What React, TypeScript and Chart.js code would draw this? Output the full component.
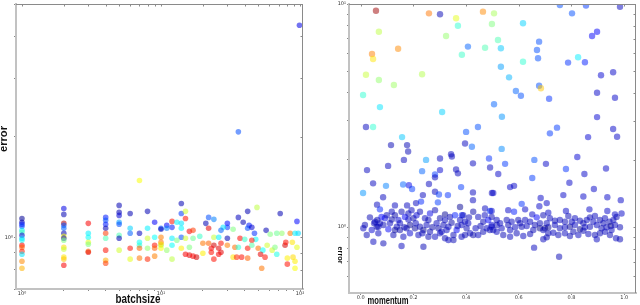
import React, { useEffect, useRef } from "react";
import { Chart, registerables } from "chart.js";
Chart.register(...registerables);

// ---------- left panel: batchsize vs error ----------
const batchsize: number[] = [
  1, 1, 1, 1, 1, 1, 1, 1, 1, 1, 1, 1, 1, 1, 1,
  2, 2, 2, 2, 2, 2, 2, 2, 2, 2, 2, 2, 2, 2,
  3, 3, 3, 3, 3, 3, 3,
  4, 4, 4, 4, 4, 4, 4, 4, 4,
  5, 5, 5, 5, 5, 5, 5, 5,
  6, 6, 6, 6, 6,
  7, 7, 7, 7, 7, 7,
  8, 8, 8, 8, 8,
  9, 9, 9, 9, 9,
  10, 10, 10, 10, 10, 10, 10,
  14, 14, 15, 15, 12, 11, 12, 13, 14, 14,
  11, 16, 17, 22, 24, 21, 22, 30, 30, 28,
  27, 33, 36, 39, 42, 49, 43, 42, 45, 47,
  57, 72, 95, 85, 92, 97, 68, 74, 61, 14,
  12, 12, 13, 15, 17, 19, 24, 26, 30, 37,
  40, 48, 45, 11, 16, 14, 20, 22, 24, 27,
  23, 26, 30, 34, 36, 42, 45, 50, 54, 58,
  63, 66, 78, 79, 95, 88, 15, 16, 17, 18,
  20, 23, 26, 27, 33, 35, 38, 42, 52, 56,
  68, 81, 89, 12, 24, 53, 81, 92, 92, 36,
  99,
];
const batchError: number[] = [
  1.139, 1.109, 1.094, 1.079, 1.049, 1.035, 1.014, 0.993, 0.98, 0.947, 0.934, 0.908, 0.89, 0.848, 0.808,
  1.22, 1.171, 1.101, 1.086, 1.064, 1.028, 1.007, 0.993, 0.98, 0.934, 0.921, 0.872, 0.86, 0.825,
  1.101, 1.028, 1.0, 0.966, 0.953, 0.908, 0.902,
  1.147, 1.124, 1.094, 1.064, 1.028, 0.993, 0.915, 0.854, 0.836,
  1.246, 1.188, 1.163, 1.109, 1.094, 1.014, 0.993, 0.915,
  1.179, 1.064, 1.028, 0.927, 0.86,
  1.48, 1.028, 0.966, 0.947, 0.927, 0.866,
  1.196, 1.064, 0.993, 0.927, 0.86,
  1.109, 1.0, 0.947, 0.927, 0.878,
  1.064, 1.0, 0.947, 0.927, 1.057, 0.966, 0.953,
  1.263, 1.179, 1.196, 1.139, 1.116, 1.086, 1.071, 1.109, 1.101, 1.064,
  1.064, 1.042, 1.049, 1.147, 1.132, 1.101, 1.064, 1.101, 1.071, 1.071,
  1.049, 1.057, 1.147, 1.109, 1.196, 1.229, 1.086, 1.064, 1.071, 1.028,
  1.049, 1.179, 1.116, 1.028, 1.028, 1.028, 1.028, 1.028, 1.021, 1.0,
  0.993, 0.947, 0.98, 0.993, 0.993, 1.007, 1.0, 1.0, 0.993, 0.993,
  0.986, 0.986, 0.98, 0.915, 0.934, 0.927, 0.96, 0.96, 0.947, 0.96,
  0.927, 0.927, 0.947, 0.934, 0.934, 0.927, 0.947, 0.927, 0.915, 0.947,
  0.915, 0.934, 0.947, 0.966, 0.934, 0.966, 0.89, 0.884, 0.878, 0.872,
  0.896, 0.902, 0.89, 0.902, 0.872, 0.872, 0.872, 0.866, 0.89, 0.872,
  0.89, 0.866, 0.872, 0.86, 0.86, 0.808, 0.831, 0.848, 0.808, 2.07,
  4.32,
];
const batchColour: number[] = [
  0.02, 0.05, 0.15, 0.18, 0.36, 0.45, 0.08, 0.33, 0.38, 0.88, 0.78, 0.85, 0.35, 0.74, 0.7,
  0.1, 0.05, 0.95, 0.2, 0.22, 0.05, 0.62, 0.05, 0.5, 0.66, 0.57, 0.65, 0.68, 0.88,
  0.88, 0.36, 0.38, 0.6, 0.5, 0.76, 0.9,
  0.15, 0.2, 0.15, 0.05, 0.82, 0.45, 0.86, 0.7, 0.82,
  0.05, 0.05, 0.08, 0.28, 0.2, 0.45, 0.05, 0.58,
  0.05, 0.33, 0.22, 0.86, 0.6,
  0.62, 0.06, 0.38, 0.42, 0.78, 0.76,
  0.05, 0.36, 0.58, 0.52, 0.84,
  0.12, 0.38, 0.86, 0.78, 0.75,
  0.2, 0.75, 0.5, 0.62, 0.05, 0.76, 0.65,
  0.05, 0.18, 0.58, 0.86, 0.86, 0.12, 0.15, 0.36, 0.35, 0.37,
  0.25, 0.88, 0.82, 0.2, 0.25, 0.05, 0.9, 0.13, 0.18, 0.35,
  0.22, 0.5, 0.06, 0.05, 0.05, 0.56, 0.15, 0.2, 0.08, 0.17,
  0.05, 0.05, 0.13, 0.76, 0.36, 0.34, 0.48, 0.52, 0.5, 0.2,
  0.36, 0.38, 0.5, 0.58, 0.48, 0.43, 0.57, 0.36, 0.05, 0.87,
  0.43, 0.38, 0.86, 0.52, 0.5, 0.64, 0.76, 0.78, 0.92, 0.86,
  0.88, 0.9, 0.75, 0.77, 0.42, 0.86, 0.46, 0.76, 0.38, 0.58,
  0.58, 0.5, 0.92, 0.86, 0.6, 0.65, 0.88, 0.9, 0.88, 0.92,
  0.64, 0.86, 0.88, 0.9, 0.65, 0.84, 0.86, 0.78, 0.9, 0.86,
  0.4, 0.64, 0.66, 0.56, 0.86, 0.76, 0.86, 0.64, 0.62, 0.2,
  0.1,
];

// ---------- right panel: momentum vs error ----------
const momentum: number[] = [
  0.058, 0.259, 0.301, 0.362, 0.464, 0.506, 0.369, 0.498, 0.069, 0.324,
  0.043, 0.047, 0.142, 0.407, 0.472, 0.384, 0.02, 0.069, 0.126, 0.233,
  0.009, 0.073, 0.309, 0.506, 0.02, 0.047, 0.445, 0.157, 0.4, 0.396,
  0.115, 0.176, 0.422, 0.756, 0.855, 0.984, 0.802, 0.616, 0.897, 0.878,
  0.521, 0.532, 0.677, 0.669, 0.673, 0.616, 0.825, 0.787, 0.851, 0.532,
  0.563, 0.912, 0.958, 0.677, 0.684, 0.589, 0.608, 0.715, 0.897, 0.965,
  0.536, 0.897, 0.745, 0.718, 0.863, 0.958, 0.973,
  0.18, 0.248, 0.164, 0.024, 0.104, 0.233, 0.301, 0.343, 0.346, 0.426,
  0.362, 0.369, 0.282, 0.301, 0.282, 0.259, 0.047, 0.096, 0.161, 0.183,
  0.195, 0.009, 0.085, 0.236, 0.282, 0.297, 0.331, 0.381, 0.426, 0.426,
  0.293, 0.062, 0.073, 0.13, 0.176, 0.21, 0.229, 0.377, 0.472, 0.32,
  0.384, 0.491, 0.498, 0.487, 0.491,
  0.035, 0.054, 0.063, 0.073, 0.092, 0.099, 0.118, 0.13, 0.143, 0.155,
  0.168, 0.181, 0.193, 0.2, 0.212, 0.225, 0.244, 0.263, 0.282, 0.301,
  0.32, 0.339, 0.358, 0.377, 0.389, 0.408, 0.427, 0.446, 0.465, 0.484,
  0.497, 0.01, 0.023, 0.042, 0.061, 0.067, 0.086, 0.105, 0.124, 0.137,
  0.149, 0.162, 0.174, 0.187, 0.206, 0.219, 0.238, 0.25, 0.263, 0.282,
  0.295, 0.307, 0.32, 0.333, 0.352, 0.364, 0.383, 0.402, 0.415, 0.427,
  0.446, 0.465, 0.478, 0.497, 0.503, 0.048, 0.086, 0.155, 0.238, 0.333,
  0.352, 0.383, 0.016, 0.079, 0.111, 0.13, 0.149, 0.166, 0.187, 0.209,
  0.225, 0.234, 0.257, 0.272, 0.288, 0.314, 0.326, 0.345, 0.368, 0.396,
  0.411, 0.436, 0.455, 0.471, 0.49, 0.067, 0.051, 0.118, 0.181, 0.257,
  0.301, 0.396,
  0.535, 0.548, 0.659, 0.703, 0.822, 0.779, 0.849, 0.931, 0.522, 0.651,
  0.792, 0.567, 0.582, 0.503, 0.769, 0.845, 0.885, 0.936, 0.987, 0.683,
  0.706, 0.611, 0.624, 0.678, 0.497, 0.56, 0.582, 0.651, 0.712, 0.779,
  0.868, 0.936, 0.965, 0.99,
  0.516, 0.554, 0.573, 0.598, 0.624, 0.668, 0.693, 0.718, 0.737, 0.756,
  0.788, 0.813, 0.832, 0.858, 0.87, 0.889, 0.908, 0.927, 0.944, 0.959,
  0.971, 0.497, 0.516, 0.535, 0.56, 0.586, 0.611, 0.63, 0.661, 0.68,
  0.699, 0.712, 0.737, 0.756, 0.775, 0.794, 0.813, 0.832, 0.851, 0.87,
  0.896, 0.914, 0.933, 0.949, 0.965, 0.984, 0.516, 0.541, 0.567, 0.592,
  0.617, 0.643, 0.693, 0.712, 0.731, 0.75, 0.775, 0.794, 0.826, 0.845,
  0.864, 0.889, 0.896, 0.908, 0.927, 0.946, 0.969, 0.984, 0.693, 0.706,
  0.658, 0.753, 0.529, 0.605, 0.643, 0.68, 0.706, 0.775, 0.801, 0.845,
  0.883, 0.921, 0.952, 0.655, 0.567, 0.807,
];
const momentumError: number[] = [
  9.33, 9.08, 8.99, 8.63, 9.24, 9.08, 7.99, 8.14, 7.51, 7.19,
  5.97, 5.67, 6.3, 6.44, 6.37, 5.92, 4.82, 4.56, 4.33, 4.84,
  3.91, 3.45, 3.28, 3.55, 2.81, 2.81, 2.81, 2.53, 2.67, 2.37,
  2.33, 2.33, 2.29, 9.9, 9.85, 9.72, 9.08, 8.2, 7.51, 7.19,
  6.9, 6.33, 6.78, 6.22, 5.71, 5.51, 5.77, 5.46, 5.48, 5.23,
  4.69, 4.79, 4.94, 4.3, 4.19, 4.07, 3.88, 3.76, 4.0, 3.8,
  3.12, 3.11, 2.79, 2.63, 2.53, 2.75, 2.54,
  2.18, 2.0, 2.0, 1.8, 1.88, 1.78, 2.03, 2.12, 2.07, 1.93,
  1.81, 1.74, 1.72, 1.8, 1.67, 1.56, 1.57, 1.53, 1.55, 1.54,
  1.48, 1.42, 1.36, 1.39, 1.44, 1.4, 1.39, 1.51, 1.43, 1.32,
  1.29, 1.26, 1.2, 1.25, 1.25, 1.28, 1.3, 1.23, 1.21, 1.14,
  1.13, 1.18, 1.42, 2.03, 1.85,
  1.105, 1.056, 1.075, 1.039, 1.094, 1.13, 1.17, 1.13, 1.075, 1.17,
  1.11, 1.15, 1.19, 1.094, 1.13, 1.17, 1.094, 1.15, 1.19, 1.094,
  1.075, 1.11, 1.13, 1.075, 1.13, 1.039, 1.17, 1.11, 1.056, 1.075,
  1.11, 0.987, 0.921, 0.969, 1.003, 0.937, 1.021, 0.977, 0.921, 1.003,
  0.969, 0.905, 0.987, 0.937, 0.987, 0.921, 0.969, 1.021, 0.953, 0.905,
  0.987, 0.953, 0.89, 1.003, 0.921, 0.969, 1.021, 0.987, 0.937, 0.921,
  0.921, 0.953, 0.987, 1.021, 0.969, 0.859, 0.845, 0.822, 0.816, 0.874,
  0.874, 0.905, 1.021, 1.11, 1.039, 0.969, 1.039, 0.997, 1.021, 1.039,
  1.003, 0.937, 1.075, 0.997, 1.039, 1.021, 0.969, 1.045, 1.01, 1.056,
  1.105, 0.987, 1.01, 1.13, 0.969, 1.003, 1.039, 1.08, 1.08, 0.905,
  0.937, 0.921,
  2.24, 1.92, 2.0, 1.92, 2.06, 1.82, 1.73, 1.83, 1.73, 1.66,
  1.58, 1.51, 1.53, 1.42, 1.39, 1.37, 1.48, 1.36, 1.32, 1.35,
  1.28, 1.27, 1.2, 1.24, 1.18, 1.19, 1.17, 1.14, 1.16, 1.18,
  1.2, 1.18, 1.14, 1.15,
  1.075, 1.075, 1.056, 1.075, 1.075, 1.105, 1.13, 1.094, 1.067, 1.075,
  1.12, 1.094, 1.067, 1.075, 1.105, 1.12, 1.075, 1.094, 1.056, 1.075,
  1.11, 1.003, 1.021, 0.987, 1.021, 0.997, 1.003, 1.01, 1.021, 0.987,
  0.987, 0.997, 1.021, 0.987, 0.997, 1.003, 1.021, 0.977, 0.997, 1.003,
  1.021, 0.987, 0.997, 1.01, 1.021, 0.997, 0.953, 0.921, 0.905, 0.937,
  0.911, 0.93, 0.969, 0.937, 0.943, 0.921, 0.937, 0.911, 0.921, 0.962,
  0.93, 0.921, 0.881, 0.937, 0.953, 0.921, 0.89, 0.881, 0.881, 0.899,
  0.808, 0.736, 1.039, 1.039, 1.056, 1.039, 1.039, 1.056, 1.056, 1.039,
  1.056, 1.039, 0.969, 0.969, 0.969, 0.953,
];
const momentumColour: number[] = [
  0.97, 0.76, 0.05, 0.6, 0.74, 0.54, 0.42, 0.5, 0.56, 0.52,
  0.75, 0.65, 0.74, 0.22, 0.45, 0.43, 0.57, 0.52, 0.53, 0.55,
  0.42, 0.35, 0.33, 0.22, 0.06, 0.42, 0.2, 0.32, 0.2, 0.06,
  0.05, 0.05, 0.22, 0.2, 0.18, 0.06, 0.2, 0.33, 0.12, 0.12,
  0.45, 0.32, 0.2, 0.2, 0.2, 0.42, 0.36, 0.17, 0.15, 0.28,
  0.3, 0.08, 0.07, 0.2, 0.68, 0.22, 0.2, 0.17, 0.07, 0.07,
  0.27, 0.08, 0.18, 0.18, 0.08, 0.07, 0.07,
  0.05, 0.28, 0.06, 0.06, 0.06, 0.22, 0.06, 0.06, 0.06, 0.06,
  0.06, 0.06, 0.18, 0.08, 0.06, 0.06, 0.06, 0.25, 0.22, 0.1,
  0.18, 0.27, 0.06, 0.06, 0.06, 0.18, 0.17, 0.18, 0.06, 0.06,
  0.18, 0.06, 0.16, 0.06, 0.06, 0.06, 0.16, 0.02, 0.06, 0.02,
  0.15, 0.17, 0.06, 0.17, 0.06,
  0.05, 0.08, 0.04, 0.06, 0.1, 0.05, 0.06, 0.04, 0.08, 0.05,
  0.12, 0.05, 0.06, 0.04, 0.08, 0.05, 0.06, 0.1, 0.05, 0.04,
  0.06, 0.05, 0.15, 0.06, 0.05, 0.06, 0.04, 0.06, 0.05, 0.12,
  0.05, 0.06, 0.05, 0.08, 0.04, 0.06, 0.05, 0.12, 0.05, 0.06,
  0.04, 0.06, 0.05, 0.08, 0.03, 0.06, 0.02, 0.06, 0.05, 0.06,
  0.04, 0.06, 0.05, 0.06, 0.05, 0.12, 0.06, 0.05, 0.06, 0.04,
  0.06, 0.05, 0.06, 0.08, 0.05, 0.06, 0.05, 0.06, 0.05, 0.06,
  0.05, 0.06, 0.05, 0.12, 0.06, 0.03, 0.06, 0.05, 0.02, 0.06,
  0.05, 0.06, 0.05, 0.04, 0.06, 0.05, 0.06, 0.04, 0.05, 0.06,
  0.05, 0.06, 0.05, 0.06, 0.05, 0.06, 0.05, 0.04, 0.06, 0.05,
  0.06, 0.05,
  0.26, 0.18, 0.2, 0.07, 0.08, 0.17, 0.07, 0.07, 0.07, 0.18,
  0.07, 0.07, 0.07, 0.07, 0.07, 0.07, 0.07, 0.07, 0.07, 0.07,
  0.07, 0.17, 0.07, 0.07, 0.07, 0.07, 0.15, 0.07, 0.07, 0.07,
  0.07, 0.07, 0.07, 0.07,
  0.06, 0.05, 0.06, 0.05, 0.06, 0.12, 0.05, 0.06, 0.05, 0.06,
  0.05, 0.06, 0.05, 0.06, 0.05, 0.06, 0.05, 0.06, 0.05, 0.06,
  0.05, 0.06, 0.05, 0.06, 0.05, 0.06, 0.05, 0.06, 0.05, 0.01,
  0.01, 0.02, 0.06, 0.05, 0.06, 0.02, 0.06, 0.01, 0.06, 0.05,
  0.06, 0.05, 0.06, 0.02, 0.06, 0.05, 0.06, 0.05, 0.06, 0.05,
  0.06, 0.05, 0.06, 0.05, 0.06, 0.05, 0.06, 0.05, 0.06, 0.05,
  0.06, 0.05, 0.06, 0.05, 0.06, 0.05, 0.06, 0.05, 0.06, 0.05,
  0.06, 0.05, 0.06, 0.05, 0.06, 0.05, 0.06, 0.05, 0.06, 0.05,
  0.06, 0.05, 0.06, 0.05, 0.06, 0.05,
];

// ---------- tick labels ----------
const decadeValues: number[] = [1, 10, 100];
const decadeLabels: string[] = ["10⁰", "10¹", "10²"];

function clamp01(v: number) {
  return Math.max(0, Math.min(1, v));
}
function jet(t: number, a: number) {
  const r = clamp01(1.5 - Math.abs(4 * t - 3));
  const g = clamp01(1.5 - Math.abs(4 * t - 2));
  const b = clamp01(1.5 - Math.abs(4 * t - 1));
  return `rgba(${Math.round(r * 255)},${Math.round(g * 255)},${Math.round(b * 255)},${a})`;
}
function decadeLabel(v: number) {
  for (let i = 0; i < decadeValues.length; i++) {
    if (Math.abs(v - decadeValues[i]) < 1e-9 * decadeValues[i]) return decadeLabels[i];
  }
  return "";
}
function keepLogTick(v: number) {
  const p = Math.pow(10, Math.floor(Math.log10(v) + 1e-9));
  const s = v / p;
  return Math.abs(s - Math.round(s)) < 1e-6;
}

const TICK_FONT = { size: 5, family: "'DejaVu Sans', sans-serif" };

// top and right frame lines, with inward tick marks mirrored from the scales
const framePlugin = {
  id: "frame",
  afterDraw(chart: any) {
    const { ctx, chartArea: a } = chart;
    const xs = chart.scales.x;
    const ys = chart.scales.y;
    ctx.save();
    ctx.strokeStyle = "#8a8a8a";
    ctx.lineWidth = 1;
    ctx.beginPath();
    ctx.moveTo(a.left, a.top + 0.5);
    ctx.lineTo(a.right, a.top + 0.5);
    ctx.moveTo(a.right - 0.5, a.top);
    ctx.lineTo(a.right - 0.5, a.bottom);
    xs.ticks.forEach((t: any) => {
      const px = Math.round(xs.getPixelForValue(t.value)) + 0.5;
      if (px > a.left + 1 && px < a.right - 1) {
        ctx.moveTo(px, a.top);
        ctx.lineTo(px, a.top + 2.5);
      }
    });
    ys.ticks.forEach((t: any) => {
      const py = Math.round(ys.getPixelForValue(t.value)) + 0.5;
      if (py > a.top + 1 && py < a.bottom - 1) {
        ctx.moveTo(a.right, py);
        ctx.lineTo(a.right - 2.5, py);
      }
    });
    ctx.stroke();
    ctx.restore();
  },
};

const titlePlugin = {
  id: "axisTitles",
  afterDraw(chart: any, _args: any, opts: any) {
    const ctx = chart.ctx;
    (opts.items || []).forEach((it: any) => {
      ctx.save();
      ctx.translate(it.x, it.y);
      ctx.rotate(it.rot || 0);
      ctx.font = it.font;
      const w = ctx.measureText(it.text).width;
      ctx.scale(it.width / w, 1);
      ctx.textAlign = "center";
      ctx.textBaseline = "alphabetic";
      ctx.fillStyle = "#111";
      ctx.fillText(it.text, 0, 0);
      ctx.restore();
    });
  },
};

function axisCommon(extra: any) {
  return {
    border: { display: true, color: "#c2c2c2", width: 2 },
    grid: { drawOnChartArea: false, drawTicks: true, tickLength: 2, color: "#888", lineWidth: 1 },
    ...extra,
  };
}

function makeLeft(canvas: HTMLCanvasElement) {
  return new Chart(canvas, {
    type: "scatter",
    data: {
      datasets: [
        {
          data: batchsize.map((x, i) => ({ x, y: batchError[i] })),
          pointBackgroundColor: batchColour.map((c) => jet(c, 0.55)),
          pointBorderWidth: 0,
          pointRadius: 2.8,
        },
      ],
    },
    options: {
      responsive: false,
      animation: false,
      events: [],
      layout: { padding: { left: 0, top: 3, right: 17, bottom: 0 } },
      plugins: {
        legend: { display: false },
        tooltip: { enabled: false },
        axisTitles: {
          items: [
            { text: "error", x: 6.5, y: 139, rot: -Math.PI / 2, font: "bold 11px 'Liberation Sans'", width: 26 },
            { text: "batchsize", x: 138, y: 303, rot: 0, font: "bold 12px 'Liberation Sans'", width: 45 },
          ],
        },
      } as any,
      scales: {
        x: axisCommon({
          type: "logarithmic",
          min: 0.906,
          max: 105,
          afterBuildTicks: (s: any) => {
            s.ticks = s.ticks.filter((t: any) => keepLogTick(t.value));
          },
          afterFit: (s: any) => {
            s.height = 16;
          },
          ticks: {
            autoSkip: false,
            maxRotation: 0,
            minRotation: 0,
            padding: 0,
            font: TICK_FONT,
            color: "#333",
            callback: (v: any) => decadeLabel(Number(v)),
          },
        }),
        y: axisCommon({
          type: "logarithmic",
          min: 0.7,
          max: 5,
          afterBuildTicks: (s: any) => {
            s.ticks = s.ticks.filter((t: any) => keepLogTick(t.value));
          },
          afterFit: (s: any) => {
            s.width = 16;
          },
          ticks: {
            autoSkip: false,
            padding: 1,
            font: TICK_FONT,
            color: "#333",
            callback: (v: any) => decadeLabel(Number(v)),
          },
        }),
      },
    },
    plugins: [framePlugin, titlePlugin],
  } as any);
}

function makeRight(canvas: HTMLCanvasElement) {
  return new Chart(canvas, {
    type: "scatter",
    data: {
      datasets: [
        {
          data: momentum.map((x, i) => ({ x, y: momentumError[i] })),
          pointBackgroundColor: momentumColour.map((c) => jet(c, 0.5)),
          pointBorderWidth: 0,
          pointRadius: 3.2,
        },
      ],
    },
    options: {
      responsive: false,
      animation: false,
      events: [],
      layout: { padding: { left: 0, top: 4, right: 4, bottom: 0 } },
      plugins: {
        legend: { display: false },
        tooltip: { enabled: false },
        axisTitles: {
          items: [
            { text: "error", x: 18, y: 255, rot: Math.PI / 2, font: "bold 8px 'Liberation Sans'", width: 17 },
            { text: "momentum", x: 68, y: 304, rot: 0, font: "bold 10px 'Liberation Sans'", width: 41 },
          ],
        },
      } as any,
      scales: {
        x: axisCommon({
          type: "linear",
          min: -0.0444,
          max: 1.0448,
          afterFit: (s: any) => {
            s.height = 12;
          },
          ticks: {
            stepSize: 0.2,
            includeBounds: false,
            autoSkip: false,
            maxRotation: 0,
            minRotation: 0,
            padding: 0,
            font: TICK_FONT,
            color: "#333",
            callback: (v: any) => Number(v).toFixed(1),
          },
        }),
        y: axisCommon({
          type: "logarithmic",
          min: 0.506,
          max: 10,
          afterBuildTicks: (s: any) => {
            s.ticks = s.ticks.filter((t: any) => keepLogTick(t.value));
          },
          afterFit: (s: any) => {
            s.width = 29;
          },
          ticks: {
            autoSkip: false,
            padding: 1,
            font: TICK_FONT,
            color: "#333",
            callback: (v: any) => decadeLabel(Number(v)),
          },
        }),
      },
    },
    plugins: [framePlugin, titlePlugin],
  } as any);
}

export default function App() {
  const leftRef = useRef<HTMLCanvasElement>(null);
  const rightRef = useRef<HTMLCanvasElement>(null);
  useEffect(() => {
    const a = makeLeft(leftRef.current!);
    const b = makeRight(rightRef.current!);
    return () => {
      a.destroy();
      b.destroy();
    };
  }, []);
  return (
    <div style={{ position: "fixed", left: 0, top: 0, width: 640, height: 305, background: "#fff" }}>
      <canvas ref={leftRef} width={320} height={305} style={{ position: "absolute", left: 0, top: 0 }} />
      <canvas ref={rightRef} width={320} height={305} style={{ position: "absolute", left: 320, top: 0 }} />
    </div>
  );
}
